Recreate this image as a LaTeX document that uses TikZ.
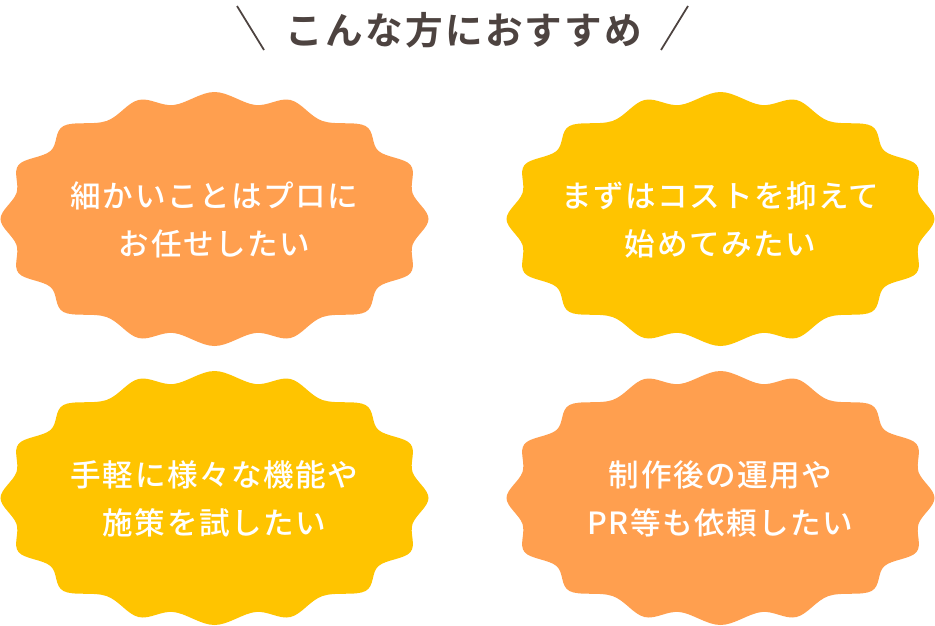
\documentclass[tikz,border=0pt]{standalone}
\usepackage{fontspec}
\newfontfamily\cjk[LetterSpace=5]{Noto Sans CJK JP Medium}
\newfontfamily\cjkhead[LetterSpace=6]{Noto Sans CJK JP Bold}
\definecolor{wavyorange}{HTML}{FF9F4F}
\definecolor{wavyyellow}{HTML}{FFC400}
\definecolor{headbrown}{HTML}{4D4340}
\tikzset{
  wavy/.pic={
    \fill[pic actions] plot[smooth cycle,tension=0.6] coordinates {
      (0,-127) (-41,-114) (-76,-119) (-108,-98) (-151,-93) (-164,-68) (-196,-54) (-198,-26)
      (-214,0)
      (-198,26) (-196,54) (-164,68) (-151,93) (-108,98) (-76,119) (-41,114)
      (0,127)
      (41,114) (76,119) (108,98) (151,93) (164,68) (196,54) (198,26)
      (214,0)
      (198,-26) (196,-54) (164,-68) (151,-93) (108,-98) (76,-119) (41,-114)};
  },
  wish/.style={align=center,text=white,font=\cjk\fontsize{17.4}{27.2}\selectfont},
  head/.style={text=headbrown,font=\cjkhead\fontsize{21.4}{24}\selectfont},
  slash/.style={draw=headbrown,line width=1pt}
}
\begin{document}
\begin{tikzpicture}[x=0.02cm,y=-0.02cm]
\useasboundingbox (0,0) rectangle (935,625);

\pic[fill=wavyorange] at (214.5,219) {wavy};
\pic[fill=wavyyellow] at (720.5,219) {wavy};
\pic[fill=wavyyellow] at (214.5,498) {wavy};
\pic[fill=wavyorange] at (720.5,498) {wavy};

\node[wish] (detail) at (214.5,220) {細かいことはプロに\\お任せしたい};
\node[wish] (cost) at (720.5,220) {まずはコストを抑えて\\始めてみたい};
\node[wish] (try) at (214.5,499) {手軽に様々な機能や\\施策を試したい};
\node[wish] (run) at (720.5,499) {制作後の運用や\\PR等も依頼したい};

\node[head] (title) at (464,30.5) {こんな方におすすめ};
\coordinate (leftA) at (237,6);
\coordinate (leftB) at (264,50);
\coordinate (rightA) at (688,6);
\coordinate (rightB) at (661,50);
\draw[slash] (leftA) -- (leftB);
\draw[slash] (rightA) -- (rightB);
\end{tikzpicture}
\end{document}
